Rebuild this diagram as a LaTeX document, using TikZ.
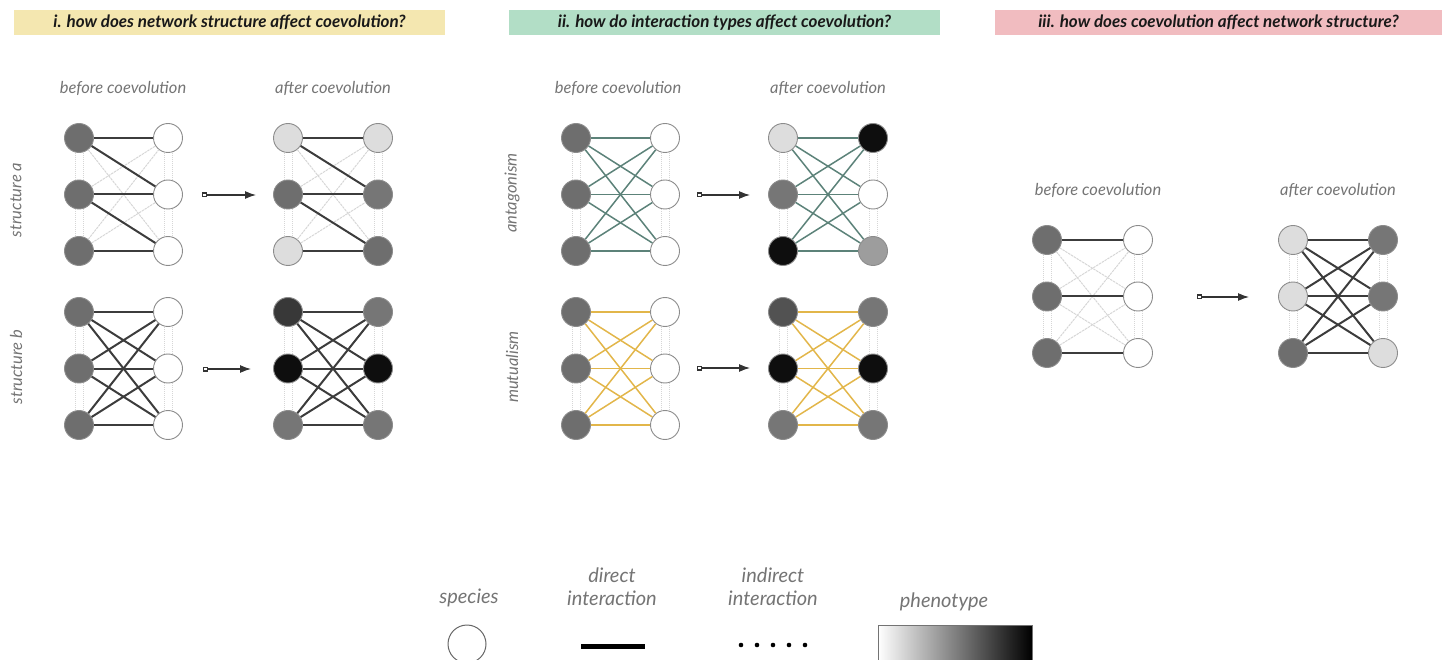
\documentclass[tikz,border=0pt]{standalone}
\usepackage{fontspec}
\setmainfont{Lato}
\usetikzlibrary{arrows.meta}
\definecolor{dg}{HTML}{6E6E6E}
\definecolor{mg}{HTML}{8C8C8C}
\definecolor{gr}{HTML}{767676}
\definecolor{lg}{HTML}{DDDDDD}
\definecolor{vd}{HTML}{383838}
\definecolor{bk}{HTML}{0E0E0E}
\definecolor{edge}{HTML}{3C3C3C}
\definecolor{teal}{HTML}{5C8279}
\definecolor{yel}{HTML}{E2B64A}
\definecolor{indc}{HTML}{D6D6D6}
\definecolor{hy}{HTML}{F4E7B0}
\definecolor{hg}{HTML}{B2DEC6}
\definecolor{hp}{HTML}{F1BCC0}
\definecolor{lbl}{HTML}{747474}
\newcommand{\colnodes}[6]{%
  \node[sp,fill=#4] (#1-1) at (#2,#3) {};
  \node[sp,fill=#5] (#1-2) at (#2,#3+56.5) {};
  \node[sp,fill=#6] (#1-3) at (#2,#3+113) {};
}
\newcommand{\alledges}[3]{%
  \foreach \i in {1,2,3}{\foreach \j in {1,2,3}{\draw[#3] (#1-\i) -- (#2-\j);}}%
}
\newcommand{\vind}[1]{%
  \draw[vind] ([xshift=-4pt]#1-1.south) -- ([xshift=-4pt]#1-2.north);
  \draw[vind] ([xshift=4pt]#1-1.south) -- ([xshift=4pt]#1-2.north);
  \draw[vind] ([xshift=-4pt]#1-2.south) -- ([xshift=-4pt]#1-3.north);
  \draw[vind] ([xshift=4pt]#1-2.south) -- ([xshift=4pt]#1-3.north);
}
\tikzset{
  sp/.style={circle,minimum size=29pt,inner sep=0pt,draw=mg,line width=0.9pt},
  dir/.style={draw=edge,line width=2pt},
  ant/.style={draw=teal,line width=1.5pt},
  mut/.style={draw=yel,line width=1.5pt},
  ind/.style={draw=indc,line width=1pt,dash pattern=on 2.5pt off 0.8pt},
  vind/.style={draw=indc,line width=0.8pt,dash pattern=on 1pt off 1pt},
  evo/.style={draw=black!80,line width=1.2pt,{Square[open,length=5pt,width=5pt]}-{Latex[length=11pt,width=8pt]}},
  hdr/.style={minimum height=25pt,inner sep=0pt,font=\fontsize{17}{19}\selectfont\bfseries\itshape,text=black!90},
  lab/.style={font=\fontsize{16.5}{18}\selectfont\itshape,text=lbl},
  leg/.style={font=\fontsize{20}{23}\selectfont\itshape,text=lbl,align=center}
}
\begin{document}
\begin{tikzpicture}[x=1pt,y=-1pt]
\useasboundingbox (0,0) rectangle (1454,660);
% headers
\node[hdr,fill=hy,minimum width=431pt] (h1) at (229.5,22.5) {i. how does network structure affect coevolution?};
\node[hdr,fill=hg,minimum width=431pt] (h2) at (724.5,22.5) {ii. how do interaction types affect coevolution?};
\node[hdr,fill=hp,minimum width=447pt] (h3) at (1218.5,22.5) {iii. how does coevolution affect network structure?};
% column titles
\node[lab] (t1) at (123,88) {before coevolution};
\node[lab] (t2) at (333,88) {after coevolution};
\node[lab] (t3) at (618,88) {before coevolution};
\node[lab] (t4) at (828,88) {after coevolution};
\node[lab] (t5) at (1098,190) {before coevolution};
\node[lab] (t6) at (1338,190) {after coevolution};
\node[lab,rotate=90] (r1) at (16,200) {structure a};
\node[lab,rotate=90] (r2) at (16,367) {structure b};
\node[lab,rotate=90] (r3) at (512,193) {antagonism};
\node[lab,rotate=90] (r4) at (512,367) {mutualism};

% ---------- panel i, structure a
\colnodes{aBL}{79}{138}{dg}{dg}{dg}
\colnodes{aBR}{168}{138}{white}{white}{white}
\colnodes{aAL}{288}{138}{lg}{dg}{lg}
\colnodes{aAR}{378}{138}{lg}{gr}{dg}
\foreach \p in {aBL,aBR,aAL,aAR}{\vind{\p}}
\foreach \l/\r in {aBL/aBR,aAL/aAR}{
  \draw[ind] (\l-1) -- (\r-3);
  \draw[ind] (\l-2) -- (\r-1);
  \draw[ind] (\l-3) -- (\r-1);
  \draw[ind] (\l-3) -- (\r-2);
  \draw[dir] (\l-1) -- (\r-1);
  \draw[dir] (\l-1) -- (\r-2);
  \draw[dir] (\l-2) -- (\r-2);
  \draw[dir] (\l-2) -- (\r-3);
  \draw[dir] (\l-3) -- (\r-3);
}
\coordinate (aS) at (202,195); \coordinate (aE) at (256,195);
\draw[evo] (aS) -- (aE);

% ---------- panel i, structure b
\colnodes{bBL}{79}{312}{dg}{dg}{dg}
\colnodes{bBR}{168}{312}{white}{white}{white}
\colnodes{bAL}{288}{312}{vd}{bk}{gr}
\colnodes{bAR}{378}{312}{gr}{bk}{gr}
\foreach \p in {bBL,bBR,bAL,bAR}{\vind{\p}}
\alledges{bBL}{bBR}{dir}
\alledges{bAL}{bAR}{dir}
\coordinate (bS) at (203,369); \coordinate (bE) at (251,369);
\draw[evo] (bS) -- (bE);

% ---------- panel ii, antagonism
\colnodes{cBL}{576}{138}{dg}{dg}{dg}
\colnodes{cBR}{665}{138}{white}{white}{white}
\colnodes{cAL}{783}{138}{lg}{gr}{bk}
\colnodes{cAR}{873}{138}{bk}{white}{mg!85}
\foreach \p in {cBL,cBR,cAL,cAR}{\vind{\p}}
\alledges{cBL}{cBR}{ant}
\alledges{cAL}{cAR}{ant}
\coordinate (cS) at (697,195); \coordinate (cE) at (750,195);
\draw[evo] (cS) -- (cE);

% ---------- panel ii, mutualism
\colnodes{dBL}{576}{312}{dg}{dg}{dg}
\colnodes{dBR}{665}{312}{white}{white}{white}
\colnodes{dAL}{783}{312}{black!68}{bk}{gr}
\colnodes{dAR}{873}{312}{gr}{bk}{gr}
\foreach \p in {dBL,dBR,dAL,dAR}{\vind{\p}}
\alledges{dBL}{dBR}{mut}
\alledges{dAL}{dAR}{mut}
\coordinate (dS) at (697,368); \coordinate (dE) at (750,368);
\draw[evo] (dS) -- (dE);

% ---------- panel iii
\colnodes{eBL}{1047}{240}{dg}{dg}{dg}
\colnodes{eBR}{1138}{240}{white}{white}{white}
\colnodes{eAL}{1293}{240}{lg}{lg}{dg}
\colnodes{eAR}{1383}{240}{gr}{gr}{lg}
\foreach \p in {eBL,eBR,eAL,eAR}{\vind{\p}}
\draw[ind] (eBL-1) -- (eBR-2);
\draw[ind] (eBL-1) -- (eBR-3);
\draw[ind] (eBL-2) -- (eBR-1);
\draw[ind] (eBL-2) -- (eBR-3);
\draw[ind] (eBL-3) -- (eBR-1);
\draw[ind] (eBL-3) -- (eBR-2);
\draw[dir] (eBL-1) -- (eBR-1);
\draw[dir] (eBL-2) -- (eBR-2);
\draw[dir] (eBL-3) -- (eBR-3);
\alledges{eAL}{eAR}{dir}
\coordinate (eS) at (1197,297); \coordinate (eE) at (1249,297);
\draw[evo] (eS) -- (eE);

% ---------- legend
\node[leg] (l1) at (469,598) {species};
\node[leg] (l2) at (612,587) {direct\\interaction};
\node[leg] (l3) at (773,587) {indirect\\interaction};
\node[leg] (l4) at (944,602) {phenotype};
\node[circle,minimum size=38pt,inner sep=0pt,draw=black!60,line width=1pt] (ls) at (467,644) {};
\coordinate (dl1) at (581,646); \coordinate (dl2) at (645,646);
\draw[line width=5pt,black] (dl1) -- (dl2);
\foreach \k in {0,...,4}{\fill[black] (741+16*\k,645) circle (2.3pt);}
\shade[left color=white,right color=black,draw=black!55,line width=0.9pt] (878,625) rectangle (1032,664);
\end{tikzpicture}
\end{document}
